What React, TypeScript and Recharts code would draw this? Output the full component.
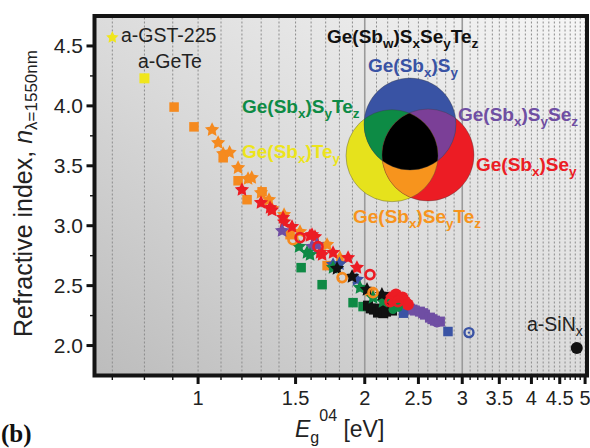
import React from 'react';
import { ScatterChart, Scatter, XAxis, YAxis, ReferenceLine } from 'recharts';

type P = { eg: number; n: number };

// ---- axis ticks ----
const xMajorTicks = [1, 1.5, 2, 2.5, 3, 3.5, 4, 4.5, 5];
const xGridTicks = [
  0.7, 0.8, 0.9, 1.0, 1.1, 1.2, 1.3, 1.4, 1.5, 1.6, 1.7, 1.8, 1.9, 2.0,
  2.1, 2.2, 2.3, 2.4, 2.5, 2.6, 2.7, 2.8, 2.9, 3.0, 3.1, 3.2, 3.3, 3.4,
  3.5, 3.6, 3.7, 3.8, 3.9, 4.0, 4.1, 4.2, 4.3, 4.4, 4.5, 4.6, 4.7, 4.8,
  4.9, 5.0,
];
const xSolidGrid = [2, 3];
const yMajorTicks = [2, 2.5, 3, 3.5, 4, 4.5];
const yAllTicks = [2, 2.25, 2.5, 2.75, 3, 3.25, 3.5, 3.75, 4, 4.25, 4.5];

// ---- data (Eg04 [eV], n at 1550 nm) ----
const gst225: P[] = [{ eg: 0.70, n: 4.57 }];
const aGeTe: P[] = [{ eg: 0.80, n: 4.23 }];
const aSiNx: P[] = [{ eg: 4.83, n: 1.98 }];

const orangeSquares: P[] = [
  { eg: 0.905, n: 3.99 }, { eg: 0.983, n: 3.825 }, { eg: 1.11, n: 3.567 },
  { eg: 1.181, n: 3.375 }, { eg: 1.226, n: 3.217 }, { eg: 1.305, n: 3.283 },
  { eg: 1.466, n: 2.925 }, { eg: 1.71, n: 2.667 }, { eg: 2.044, n: 2.45 },
];
const orangeStars: P[] = [
  { eg: 1.06, n: 3.8 }, { eg: 1.087, n: 3.692 }, { eg: 1.11, n: 3.6 },
  { eg: 1.14, n: 3.61 }, { eg: 1.181, n: 3.483 }, { eg: 1.231, n: 3.392 },
  { eg: 1.25, n: 3.4 }, { eg: 1.299, n: 3.275 }, { eg: 1.343, n: 3.217 },
  { eg: 1.36, n: 3.142 }, { eg: 1.43, n: 3.092 }, { eg: 1.528, n: 2.95 },
  { eg: 1.71, n: 2.842 }, { eg: 1.804, n: 2.733 },
];
const redStars: P[] = [
  { eg: 1.2, n: 3.3 }, { eg: 1.299, n: 3.192 }, { eg: 1.349, n: 3.15 },
  { eg: 1.36, n: 3.13 }, { eg: 1.424, n: 3.067 }, { eg: 1.43, n: 3.03 },
  { eg: 1.478, n: 2.992 }, { eg: 1.593, n: 2.917 }, { eg: 1.626, n: 2.908 },
  { eg: 1.606, n: 2.925 }, { eg: 1.661, n: 2.775 }, { eg: 1.675, n: 2.758 },
  { eg: 1.753, n: 2.775 }, { eg: 1.866, n: 2.733 }, { eg: 1.936, n: 2.65 },
];
const purpleStars: P[] = [
  { eg: 1.418, n: 2.958 }, { eg: 1.606, n: 2.825 }, { eg: 1.64, n: 2.84 },
];
const blueStars: P[] = [
  { eg: 1.753, n: 2.675 }, { eg: 1.8, n: 2.68 }, { eg: 1.936, n: 2.55 },
];
const greenStars: P[] = [
  { eg: 1.522, n: 2.825 }, { eg: 1.573, n: 2.775 }, { eg: 1.593, n: 2.758 },
  { eg: 1.753, n: 2.65 }, { eg: 1.961, n: 2.483 }, { eg: 2.07, n: 2.4 },
  { eg: 2.158, n: 2.367 },
];
const blackStars: P[] = [
  { eg: 1.782, n: 2.642 }, { eg: 1.897, n: 2.575 }, { eg: 2.019, n: 2.467 },
  { eg: 2.148, n: 2.425 },
];
const orangeRings: P[] = [
  { eg: 1.484, n: 2.883 }, { eg: 1.82, n: 2.567 }, { eg: 2.07, n: 2.442 },
];
const redRings: P[] = [
  { eg: 1.528, n: 2.9 }, { eg: 1.647, n: 2.825 }, { eg: 2.044, n: 2.592 },
  { eg: 2.222, n: 2.367 }, { eg: 2.296, n: 2.367 },
];
const greenSquares: P[] = [
  { eg: 1.535, n: 2.65 }, { eg: 1.675, n: 2.508 }, { eg: 1.905, n: 2.358 },
  { eg: 1.986, n: 2.325 },
];
const blackSquares: P[] = [
  { eg: 2.027, n: 2.333 }, { eg: 2.05, n: 2.31 }, { eg: 2.078, n: 2.3 },
  { eg: 2.113, n: 2.275 }, { eg: 2.131, n: 2.308 }, { eg: 2.16, n: 2.27 },
  { eg: 2.176, n: 2.333 }, { eg: 2.185, n: 2.283 }, { eg: 2.24, n: 2.292 },
];
const redDots: P[] = [
  { eg: 2.222, n: 2.4 }, { eg: 2.25, n: 2.38 }, { eg: 2.277, n: 2.425 },
  { eg: 2.315, n: 2.383 }, { eg: 2.34, n: 2.4 }, { eg: 2.364, n: 2.367 },
  { eg: 2.393, n: 2.342 },
];
const greenDots: P[] = [{ eg: 2.249, n: 2.3 }, { eg: 2.3, n: 2.32 }];
const purpleSquares: P[] = [
  { eg: 2.344, n: 2.325 }, { eg: 2.364, n: 2.31 }, { eg: 2.413, n: 2.308 },
  { eg: 2.44, n: 2.3 }, { eg: 2.464, n: 2.292 }, { eg: 2.516, n: 2.283 },
  { eg: 2.55, n: 2.27 }, { eg: 2.569, n: 2.258 }, { eg: 2.623, n: 2.233 },
  { eg: 2.65, n: 2.22 }, { eg: 2.678, n: 2.208 }, { eg: 2.734, n: 2.2 },
];
const purpleRings: P[] = [{ eg: 2.7, n: 2.2 }];
const blueSquares: P[] = [{ eg: 2.35, n: 2.27 }, { eg: 2.827, n: 2.117 }];
const blueRings: P[] = [{ eg: 3.085, n: 2.108 }];

// ---- styles ----
const C = {
  orange: '#f58a1f',
  red: '#ec1c24',
  purple: '#6f4ea3',
  blue: '#3a53a4',
  green: '#0f8a45',
  black: '#111111',
  yellow: '#f0e61c',
};
const FONT = '"Liberation Sans", Arial, Helvetica, sans-serif';

const W = 590;
const H = 448;
const PL = 94.5;
const PR = 587;
const PT = 16;
const PB = 375.5;

const starPath = (cx: number, cy: number, R: number) => {
  const r = R * 0.5;
  let d = '';
  for (let i = 0; i < 10; i++) {
    const a = -Math.PI / 2 + (i * Math.PI) / 5;
    const rr = i % 2 === 0 ? R : r;
    d += (i === 0 ? 'M' : 'L') + (cx + rr * Math.cos(a)).toFixed(2) + ',' + (cy + rr * Math.sin(a)).toFixed(2);
  }
  return d + 'Z';
};

const starShape = (color: string, R = 7.5) => (p: any) => (
  <path d={starPath(p.cx, p.cy, R)} fill={color} />
);
const squareShape = (color: string, s = 9.5) => (p: any) => (
  <rect x={p.cx - s / 2} y={p.cy - s / 2} width={s} height={s} fill={color} />
);
const dotShape = (color: string, r = 5.5) => (p: any) => (
  <circle cx={p.cx} cy={p.cy} r={r} fill={color} />
);
const ringShape = (color: string, r = 4.5) => (p: any) => (
  <circle cx={p.cx} cy={p.cy} r={r} fill="none" stroke={color} strokeWidth={2.7} />
);
const blueRingShape = (p: any) => (
  <g>
    <circle cx={p.cx} cy={p.cy} r={4.5} fill="none" stroke={C.blue} strokeWidth={2.4} />
    <circle cx={p.cx} cy={p.cy} r={1.2} fill={C.blue} />
  </g>
);

const near = (a: number, b: number) => Math.abs(a - b) < 1e-6;

const XTick = (props: any) => {
  const { x, y, payload } = props;
  const v = payload.value as number;
  const major = xMajorTicks.some((t) => near(t, v));
  return (
    <g>
      <line x1={x} x2={x} y1={y + 1} y2={y + (major ? 8.5 : 4.5)} stroke="#111" strokeWidth={major ? 3 : 1.4} />
      {major && (
        <text x={x} y={y + 29.5} textAnchor="middle" fontSize={20} fontFamily={FONT} fill="#222">
          {String(v)}
        </text>
      )}
    </g>
  );
};

const YTick = (props: any) => {
  const { x, y, payload } = props;
  const v = payload.value as number;
  const major = yMajorTicks.some((t) => near(t, v));
  return (
    <g>
      <line x1={x - 1} x2={x - (major ? 8 : 4.5)} y1={y} y2={y} stroke="#111" strokeWidth={major ? 3 : 1.4} />
      {major && (
        <text x={x - 11.5} y={y + 7.5} textAnchor="end" fontSize={21} fontFamily={FONT} fill="#222">
          {v.toFixed(1)}
        </text>
      )}
    </g>
  );
};

const Sub = ({ t, fs = 13.5, d = 5 }: { t: string; fs?: number; d?: number }) => (
  <tspan dy={d} fontSize={fs}>{t}</tspan>
);

// Venn inset geometry
const blueC = { cx: 410, cy: 124, r: 46 };
const yellowC = { cx: 392, cy: 155.7, r: 46 };
const redC = { cx: 428, cy: 155, r: 46 };

const VennLabel = ({ x, y, color, parts }: { x: number; y: number; color: string; parts: [string, string][] }) => (
  <text x={x} y={y} fontFamily={FONT} fontWeight="bold" fontSize={19} fill={color}>
    {parts.map(([main, sub], i) => (
      <React.Fragment key={i}>
        <tspan dy={i === 0 ? 0 : -5}>{main}</tspan>
        {sub ? <tspan dy={5} fontSize={13.5}>{sub}</tspan> : <tspan dy={5}></tspan>}
      </React.Fragment>
    ))}
  </text>
);

export default function App() {
  return (
    <div style={{ position: 'absolute', left: 0, top: 0, width: W, height: H, background: '#fff', overflow: 'hidden' }}>
      <div
        style={{
          position: 'absolute',
          left: PL,
          top: PT,
          width: PR - PL,
          height: PB - PT,
          background: 'linear-gradient(to top right, #bcbcbc 0%, #d9d9d9 45%, #f6f6f6 100%)',
        }}
      />
      <div style={{ position: 'absolute', left: 0, top: 0 }}>
        <ScatterChart width={W} height={H} margin={{ top: PT, right: W - PR, bottom: 0, left: 0 }}>
          <XAxis
            type="number"
            dataKey="eg"
            scale="log"
            domain={[0.65, 5.04]}
            allowDataOverflow
            ticks={xGridTicks}
            interval={0}
            tick={XTick}
            tickLine={false}
            axisLine={false}
            tickSize={0}
            tickMargin={0}
            height={H - PB}
          />
          <YAxis
            type="number"
            dataKey="n"
            domain={[1.75, 4.75]}
            allowDataOverflow
            ticks={yAllTicks}
            interval={0}
            tick={YTick}
            tickLine={false}
            axisLine={false}
            tickSize={0}
            tickMargin={0}
            width={PL}
          />
          {xGridTicks.map((v) => (
            <ReferenceLine
              key={'g' + v}
              x={v}
              stroke={xSolidGrid.some((s) => near(s, v)) ? '#9a9a9a' : '#8c8c8c'}
              strokeWidth={xSolidGrid.some((s) => near(s, v)) ? 1.6 : 1}
              strokeDasharray={xSolidGrid.some((s) => near(s, v)) ? undefined : '2 2'}
            />
          ))}
          <Scatter data={greenSquares} fill={C.green} shape={squareShape(C.green)} isAnimationActive={false} />
          <Scatter data={blackSquares} fill={C.black} shape={squareShape(C.black, 10)} isAnimationActive={false} />
          <Scatter data={purpleSquares} fill={C.purple} shape={squareShape(C.purple, 10)} isAnimationActive={false} />
          <Scatter data={blueSquares} fill={C.blue} shape={squareShape(C.blue)} isAnimationActive={false} />
          <Scatter data={redDots} fill={C.red} shape={dotShape(C.red, 6)} isAnimationActive={false} />
          <Scatter data={greenDots} fill={C.green} shape={dotShape(C.green, 4.5)} isAnimationActive={false} />
          <Scatter data={orangeSquares} fill={C.orange} shape={squareShape(C.orange)} isAnimationActive={false} />
          <Scatter data={orangeStars} fill={C.orange} shape={starShape(C.orange)} isAnimationActive={false} />
          <Scatter data={redStars} fill={C.red} shape={starShape(C.red)} isAnimationActive={false} />
          <Scatter data={purpleStars} fill={C.purple} shape={starShape(C.purple)} isAnimationActive={false} />
          <Scatter data={blueStars} fill={C.blue} shape={starShape(C.blue)} isAnimationActive={false} />
          <Scatter data={greenStars} fill={C.green} shape={starShape(C.green)} isAnimationActive={false} />
          <Scatter data={blackStars} fill={C.black} shape={starShape(C.black)} isAnimationActive={false} />
          <Scatter data={orangeRings} fill={C.orange} shape={ringShape(C.orange)} isAnimationActive={false} />
          <Scatter data={redRings} fill={C.red} shape={ringShape(C.red)} isAnimationActive={false} />
          <Scatter data={purpleRings} fill={C.purple} shape={ringShape(C.purple)} isAnimationActive={false} />
          <Scatter data={blueRings} fill={C.blue} shape={blueRingShape} isAnimationActive={false} />
          <Scatter data={gst225} fill={C.yellow} shape={starShape(C.yellow, 6.5)} isAnimationActive={false} />
          <Scatter data={aGeTe} fill={C.yellow} shape={squareShape(C.yellow, 10)} isAnimationActive={false} />
          <Scatter data={aSiNx} fill={C.black} shape={dotShape(C.black, 6)} isAnimationActive={false} />
        </ScatterChart>
      </div>
      <svg width={W} height={H} style={{ position: 'absolute', left: 0, top: 0, pointerEvents: 'none' }}>
        <defs>
          <clipPath id="clipY"><circle cx={yellowC.cx} cy={yellowC.cy} r={yellowC.r} /></clipPath>
          <clipPath id="clipR"><circle cx={redC.cx} cy={redC.cy} r={redC.r} /></clipPath>
        </defs>
        {/* frame */}
        <rect x={PL} y={PT} width={PR - PL} height={PB - PT} fill="none" stroke="#141414" strokeWidth={4} />

        {/* Venn inset */}
        <circle {...yellowC} fill="#e6e21c" />
        <circle {...redC} fill="#ec1c24" />
        <circle {...blueC} fill="#3953a4" />
        <circle {...blueC} fill="#0d8b45" clipPath="url(#clipY)" />
        <circle {...blueC} fill="#7b3f97" clipPath="url(#clipR)" />
        <circle {...yellowC} fill="#f7941d" clipPath="url(#clipR)" />
        <g clipPath="url(#clipR)">
          <circle {...blueC} fill="#000" clipPath="url(#clipY)" />
        </g>
        <circle {...yellowC} fill="none" stroke="rgba(60,60,60,0.45)" strokeWidth={0.8} />
        <circle {...redC} fill="none" stroke="rgba(60,60,60,0.45)" strokeWidth={0.8} />
        <circle {...blueC} fill="none" stroke="rgba(60,60,60,0.45)" strokeWidth={0.8} />

        <VennLabel x={327} y={43} color="#111" parts={[['Ge(Sb', 'w'], [')S', 'x'], ['Se', 'y'], ['Te', 'z']]} />
        <VennLabel x={368} y={72} color="#3953a4" parts={[['Ge(Sb', 'x'], [')S', 'y']]} />
        <VennLabel x={242} y={113} color="#0d8b45" parts={[['Ge(Sb', 'x'], [')S', 'y'], ['Te', 'z']]} />
        <VennLabel x={458} y={121} color="#6f4ea3" parts={[['Ge(Sb', 'x'], [')S', 'y'], ['Se', 'z']]} />
        <VennLabel x={242} y={158} color="#ece41c" parts={[['Ge(Sb', 'x'], [')Te', 'y']]} />
        <VennLabel x={476} y={171} color="#ec1c24" parts={[['Ge(Sb', 'x'], [')Se', 'y']]} />
        <VennLabel x={353} y={223} color="#f7941d" parts={[['Ge(Sb', 'x'], [')Se', 'y'], ['Te', 'z']]} />

        {/* point annotations */}
        <text x={121} y={42} fontFamily={FONT} fontSize={19.5} fill="#222">a-GST-225</text>
        <text x={138} y={68} fontFamily={FONT} fontSize={19.5} fill="#222">a-GeTe</text>
        <text x={527} y={331} fontFamily={FONT} fontSize={19.5} fill="#222">
          a-SiN<Sub t="x" fs={14} d={5} />
        </text>

        {/* axis titles */}
        <text transform="translate(32,337) rotate(-90)" fontFamily={FONT} fontSize={25} fill="#222">
          Refractive index, <tspan fontStyle="italic">n</tspan>
          <tspan dy={5} fontSize={17}>λ=1550nm</tspan>
        </text>
        <text x={295} y={437} fontFamily={FONT} fontSize={23} fill="#222">
          <tspan fontStyle="italic">E</tspan>
          <tspan dy={6} fontSize={16}>g</tspan>
          <tspan dy={-22} fontSize={16}>04</tspan>
          <tspan dy={16}> [eV]</tspan>
        </text>
        <text x={1} y={442} fontFamily='"Liberation Serif", "Times New Roman", serif' fontWeight="bold" fontSize={25} fill="#111">
          (b)
        </text>
      </svg>
    </div>
  );
}
